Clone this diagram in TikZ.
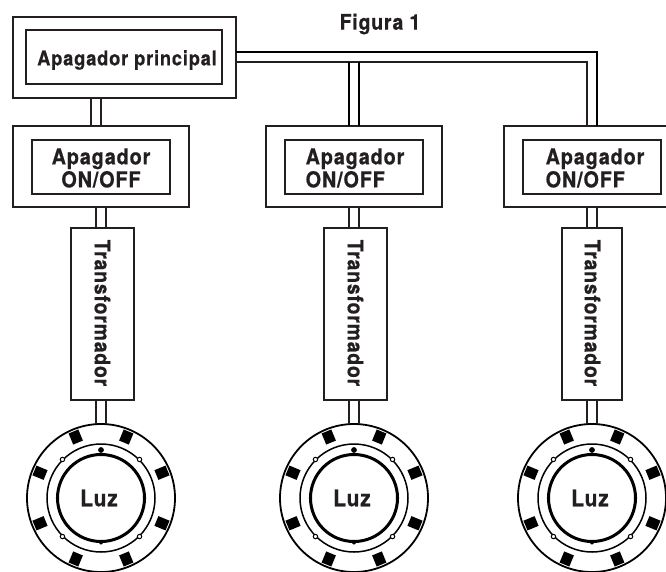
\documentclass[tikz,border=0pt]{standalone}
\usepackage{fontspec}
\setmainfont{TeX Gyre Heros}[BoldFont=* Bold]
\newfontfamily\narrowbold{TeX Gyre Heros Bold}[FakeStretch=0.9,LetterSpace=4,FakeBold=0.6]
\definecolor{ink}{HTML}{231F20}
\tikzset{
  boxa/.style={draw=ink,line width=1.8pt,rectangle,inner sep=0pt,outer sep=0pt,anchor=north west},
  boxb/.style={draw=ink,line width=1.6pt,rectangle,inner sep=0pt,outer sep=0pt,anchor=north west},
  wire/.style={draw=ink,line width=1.4pt},
  wirebold/.style={draw=black,line width=1.9pt},
  lab/.style={text=ink,inner sep=0pt,font=\narrowbold\fontsize{22}{23}\selectfont,align=left},
  tflab/.style={lab,rotate=-90,font=\narrowbold\fontsize{21.5}{22}\selectfont},
  pad/.style={fill=black,rectangle,minimum width=10.5pt,minimum height=12pt,inner sep=0pt},
}
\newcommand{\lightunit}[2]{%
  \node[circle,draw=black,line width=1.8pt,outer sep=0pt,minimum size=148pt,inner sep=0pt] (#2o) at (#1,498) {};
  \node[circle,draw=black,line width=1.5pt,outer sep=0pt,minimum size=108pt,inner sep=0pt] (#2m) at (#1,498) {};
  \node[circle,draw=black,line width=3pt,outer sep=0pt,minimum size=87pt,inner sep=0pt,text=ink,font=\narrowbold\fontsize{23}{23}\selectfont] (#2i) at (#1,498) {\kern-4pt Luz};
  \foreach \a in {22.5,67.5,...,337.5}{
    \node[pad,rotate=\a+90] at ([shift={(-\a:66)}]#2o.center) {};
  }
  \fill[black] ([shift={(0,-48)}]#2o.center) circle (2.9pt);
  \fill[black] ([shift={(0,44.5)}]#2o.center) circle (2pt);
  \fill[black] ([shift={(44,0)}]#2o.center) circle (1.4pt);
  \fill[black] ([shift={(-44,0)}]#2o.center) circle (1.4pt);
  \foreach \a in {45,135,225,315}{
    \draw[fill=white,draw=black,line width=1pt] ([shift={(\a:54.5)}]#2o.center) circle (2.2pt);
  }
}
\begin{document}
\begin{tikzpicture}[x=1pt,y=-1pt]
\path[fill=white] (0,0) rectangle (666,571);
\clip (0,0) rectangle (666,571);
\node[text=ink,inner sep=0pt,font=\narrowbold\fontsize{21.5}{20}\selectfont] (fig) at (380,24) {Figura 1};

% main switch
\node[boxa,minimum width=223pt,minimum height=81pt] (main) at (13,17) {};
\node[boxb,minimum width=196pt,minimum height=54pt] (maini) at (26,30) {};
\node[lab,font=\narrowbold\fontsize{20.3}{20}\selectfont] (mainl) at (127,60) {Apagador principal};

% on/off switches
\node[boxa,minimum width=176pt,minimum height=81pt] (s1) at (13,126) {};
\node[boxb,minimum width=138pt,minimum height=54pt] (s1i) at (32,140) {};
\node[lab,align=center] (s1l) at (101,168) {Apagador\\ON/OFF};
\node[boxa,minimum width=176pt,minimum height=81pt] (s2) at (266,126) {};
\node[boxb,minimum width=138pt,minimum height=54pt] (s2i) at (285,140) {};
\node[lab] (s2l) at (355,168) {Apagador\\ON/OFF};
\node[boxa,minimum width=190pt,minimum height=81pt] (s3) at (504,126) {};
\node[boxb,minimum width=138pt,minimum height=54pt] (s3i) at (523,140) {};
\node[lab] (s3l) at (595,168) {Apagador\\ON/OFF};

% transformers
\node[boxa,minimum width=63pt,minimum height=172pt] (t1) at (71,228) {};
\node[tflab] (t1l) at (102.5,313) {Transformador};
\node[boxa,minimum width=63pt,minimum height=172pt] (t2) at (324,228) {};
\node[tflab] (t2l) at (355.5,313) {Transformador};
\node[boxa,minimum width=60pt,minimum height=172pt] (t3) at (562,228) {};
\node[tflab] (t3l) at (592.5,313) {Transformador};

% lights
\lightunit{101}{a}
\lightunit{354}{b}
\lightunit{592}{c}

% wire columns and rows
\coordinate (c1a) at (91,0);  \coordinate (c1b) at (101,0);
\coordinate (c1c) at (96,0);  \coordinate (c1d) at (106,0);
\coordinate (c2a) at (349,0); \coordinate (c2b) at (359,0);
\coordinate (c3a) at (587,0); \coordinate (c3b) at (597,0);
\coordinate (r1) at (0,52);   \coordinate (r2) at (0,62);

% main to first switch
\draw[wire] (main.south -| c1a) -- (s1.north -| c1a);
\draw[wire] (main.south -| c1b) -- (s1.north -| c1b);
% bus
\draw[wirebold,line width=1.6pt,line join=miter] (main.east |- r1) -- (r1 -| c3b) -- (s3.north -| c3b);
\draw[wire,line join=miter] (main.east |- r2) -- (r2 -| c3a) -- (s3.north -| c3a);
\draw[wirebold] (r2 -| c2a) -- (s2.north -| c2a);
\draw[wirebold] (r2 -| c2b) -- (s2.north -| c2b);
% switch to transformer
\draw[wire] (s1.south -| c1c) -- (t1.north -| c1c);
\draw[wire] (s1.south -| c1d) -- (t1.north -| c1d);
\draw[wire] (s2.south -| c2a) -- (t2.north -| c2a);
\draw[wire] (s2.south -| c2b) -- (t2.north -| c2b);
\draw[wire] (s3.south -| c3a) -- (t3.north -| c3a);
\draw[wire] (s3.south -| c3b) -- (t3.north -| c3b);
% transformer to light
\draw[wire] (t1.south -| c1c) -- (ao.north -| c1c);
\draw[wire] (t1.south -| c1d) -- (ao.north -| c1d);
\draw[wire] (t2.south -| c2a) -- (bo.north -| c2a);
\draw[wire] (t2.south -| c2b) -- (bo.north -| c2b);
\draw[wire] (t3.south -| c3a) -- (co.north -| c3a);
\draw[wire] (t3.south -| c3b) -- (co.north -| c3b);
\end{tikzpicture}
\end{document}
